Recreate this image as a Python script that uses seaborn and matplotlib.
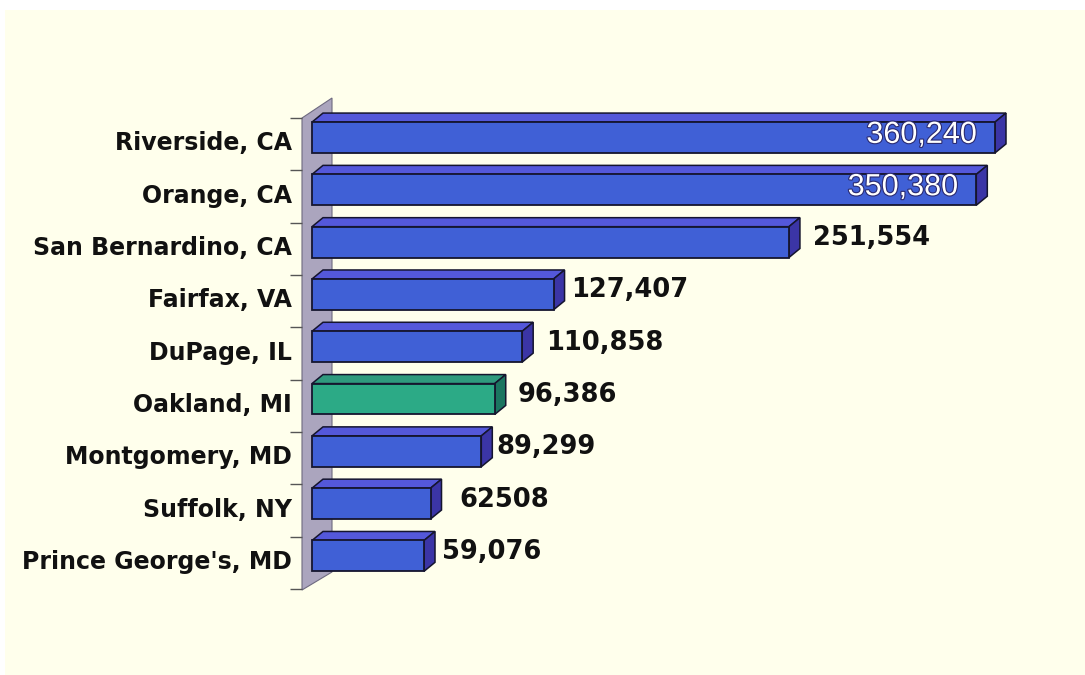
import numpy as np
import pandas as pd
import matplotlib
matplotlib.use("Agg")
import matplotlib.pyplot as plt
import seaborn as sns
from matplotlib.patches import Polygon, Rectangle
import matplotlib.patheffects as pe
import matplotlib.transforms as mtransforms

# ---------------- data ----------------
counties = ["Riverside, CA", "Orange, CA", "San Bernardino, CA", "Fairfax, VA",
            "DuPage, IL", "Oakland, MI", "Montgomery, MD", "Suffolk, NY",
            "Prince George's, MD"]
values = [360240, 350380, 251554, 127407, 110858, 96386, 89299, 62508, 59076]
value_labels = ["360,240", "350,380", "251,554", "127,407", "110,858",
                "96,386", "89,299", "62508", "59,076"]
highlight = "Oakland, MI"

# ---------------- style ----------------
W, H = 1085, 675
BLUE = {"front": "#4060D6", "top": "#5458DA", "side": "#3B35A6"}
GREEN = {"front": "#2CAA86", "top": "#2F9A7E", "side": "#1B7560"}
EDGE = "#15152E"
label_nudge_px = [0, 0, 3, -3, 3, 2, -6, 8, -3]   # hand placement of outside labels

sns.set_theme(style="white")
plt.rcParams["font.family"] = ["DejaVu Sans"]

fig = plt.figure(figsize=(W / 100, H / 100), dpi=100)
fig.patch.set_facecolor("white")
fig.add_artist(Rectangle((5 / W, 0), 1 - 5 / W, 1 - 10 / H, transform=fig.transFigure,
                         facecolor="#FFFFEC", edgecolor="none", zorder=-10))

# axes layout (pixels)
ax_left, ax_right, ax_top, ax_bot = 292, 1075, 95, 600
zero_px = 312
scale = 683 / 360240.0          # px per unit
c0, step = 137.5, 52.3          # category centre pixel and spacing

ax = fig.add_axes([ax_left / W, 1 - ax_bot / H, (ax_right - ax_left) / W, (ax_bot - ax_top) / H])
ax.set_facecolor("none")

def px2x(px):
    return (px - zero_px) / scale

def py2y(py):
    return (py - c0) / step

df = pd.DataFrame({"county": counties, "value": values})
palette = {c: (GREEN["front"] if c == highlight else BLUE["front"]) for c in counties}

sns.barplot(data=df, x="value", y="county", hue="county", palette=palette, orient="h",
            width=0.59, saturation=1, edgecolor=EDGE, linewidth=1.3, legend=False, ax=ax)

ax.set_xlim(px2x(ax_left), px2x(ax_right))
ax.set_ylim(py2y(ax_bot), py2y(ax_top))

dx = 11 / scale
dy = 9 / step

# side wall
wall = Polygon([(px2x(302), py2y(118)), (px2x(332), py2y(98)),
                (px2x(332), py2y(572)), (px2x(302), py2y(590))],
               closed=True, facecolor="#ABA5BE", edgecolor="#6E6A80", linewidth=0.8, zorder=0.5)
ax.add_patch(wall)

# category boundary ticks
ticks_y = [i - 0.5 + 0.13 for i in range(len(counties) + 1)]
ax.hlines(ticks_y, px2x(290), px2x(302), color="#555555", linewidth=1.0, clip_on=False, zorder=0.6)

# 3-D faces
patches = sorted([p for p in ax.patches if isinstance(p, Rectangle) and p.get_width() > 0],
                 key=lambda p: p.get_y())
for p, name in zip(patches, counties):
    cols = GREEN if name == highlight else BLUE
    x0, y0, w, h = p.get_x(), p.get_y(), p.get_width(), p.get_height()
    p.set_zorder(3)
    top = Polygon([(x0, y0), (x0 + dx, y0 - dy), (x0 + w + dx, y0 - dy), (x0 + w, y0)],
                  closed=True, facecolor=cols["top"], edgecolor=EDGE, linewidth=1.1, zorder=2.9)
    side = Polygon([(x0 + w, y0), (x0 + w + dx, y0 - dy), (x0 + w + dx, y0 + h - dy), (x0 + w, y0 + h)],
                   closed=True, facecolor=cols["side"], edgecolor=EDGE, linewidth=1.1, zorder=2.9)
    ax.add_patch(top)
    ax.add_patch(side)

# category labels
lab_tr = mtransforms.blended_transform_factory(ax.transAxes, ax.transData) + \
    mtransforms.ScaledTranslation(0, -6 / 100, fig.dpi_scale_trans)
for i, name in enumerate(counties):
    ax.text(0, i, name, transform=lab_tr, ha="right", va="center",
            fontsize=17, fontweight="bold", color="#111111")

# value labels
vmax = max(values)
up = mtransforms.offset_copy(ax.transData, fig=fig, x=0, y=4, units="dots")
for i, (v, lab) in enumerate(zip(values, value_labels)):
    if v > 0.8 * vmax:
        ax.text(v - 18 / scale, i - 0.05, lab, ha="right", va="center", fontsize=22,
                family="Liberation Sans", color="white", zorder=5,
                path_effects=[pe.withStroke(linewidth=1.6, foreground="#2A2A70")])
    else:
        ax.text(v + dx + (10 + label_nudge_px[i]) / scale, i, lab, transform=up,
                ha="left", va="center", fontsize=18.5, fontweight="bold",
                color="#111111", zorder=5)

ax.set_yticks([])
ax.set_xticks([])
ax.set_xlabel("")
ax.set_ylabel("")
for s in ax.spines.values():
    s.set_visible(False)
ax.grid(False)

fig.savefig("out.png", dpi=100, facecolor=fig.get_facecolor())
